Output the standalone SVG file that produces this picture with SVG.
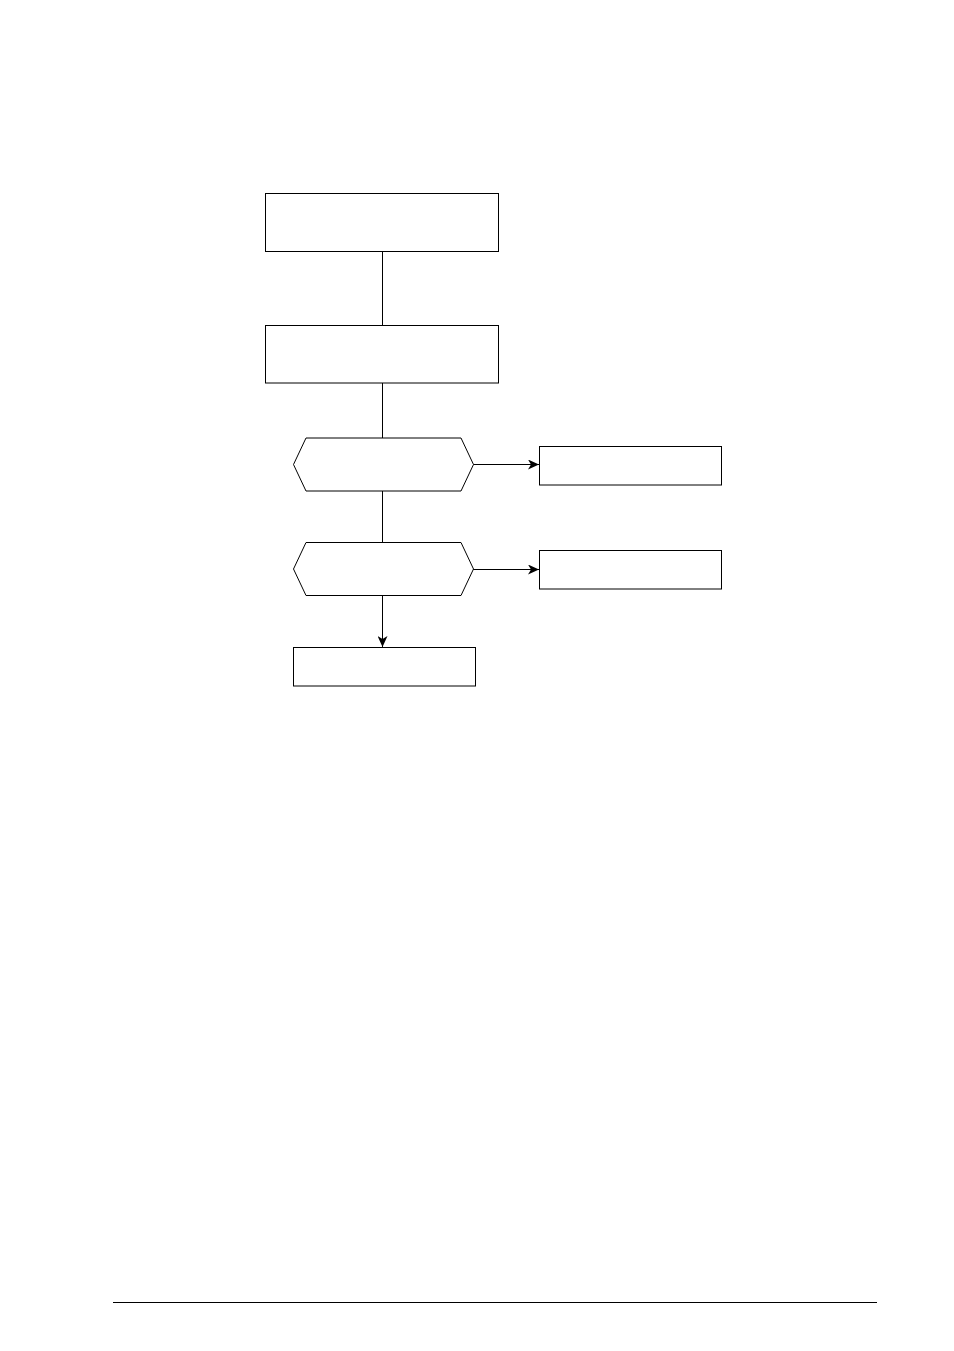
<svg xmlns="http://www.w3.org/2000/svg" width="954" height="1351" viewBox="0 0 954 1351">
<style>
.n{fill:#fff;stroke:#000;stroke-width:1}
.c{fill:none;stroke:#000;stroke-width:1}
</style>
<defs>
<marker id="ah" markerWidth="12" markerHeight="10" refX="11" refY="5" orient="auto" markerUnits="userSpaceOnUse">
<path d="M0,0 L11,5 L0,10 L3,5 Z" fill="#000"/>
</marker>
</defs>
<rect width="954" height="1351" fill="#fff"/>
<g id="connectors">
<line class="c" x1="382.5" y1="252" x2="382.5" y2="325.5"/>
<line class="c" x1="382.5" y1="383" x2="382.5" y2="438"/>
<line class="c" x1="382.5" y1="491" x2="382.5" y2="542.5"/>
<line class="c" x1="382.5" y1="595.5" x2="382.5" y2="647" marker-end="url(#ah)"/>
<line class="c" x1="473" y1="464.5" x2="539" y2="464.5" marker-end="url(#ah)"/>
<line class="c" x1="473" y1="569.5" x2="539" y2="569.5" marker-end="url(#ah)"/>
</g>
<g id="node1"><rect class="n" x="265.5" y="193.5" width="233" height="58"/></g>
<g id="node2"><rect class="n" x="265.5" y="325.5" width="233" height="57.5"/></g>
<g id="decision1"><polygon class="n" points="306,438 461,438 473.5,464.5 461,491 306,491 293.5,464.5"/></g>
<g id="node3"><rect class="n" x="539.5" y="446.5" width="182" height="38.5"/></g>
<g id="decision2"><polygon class="n" points="306,542.5 461,542.5 473.5,569 461,595.5 306,595.5 293.5,569"/></g>
<g id="node4"><rect class="n" x="539.5" y="550.5" width="182" height="38.5"/></g>
<g id="node5"><rect class="n" x="293.5" y="647.5" width="182" height="38.5"/></g>
<line x1="113" y1="1302.5" x2="877" y2="1302.5" stroke="#000" stroke-width="1"/>
</svg>
